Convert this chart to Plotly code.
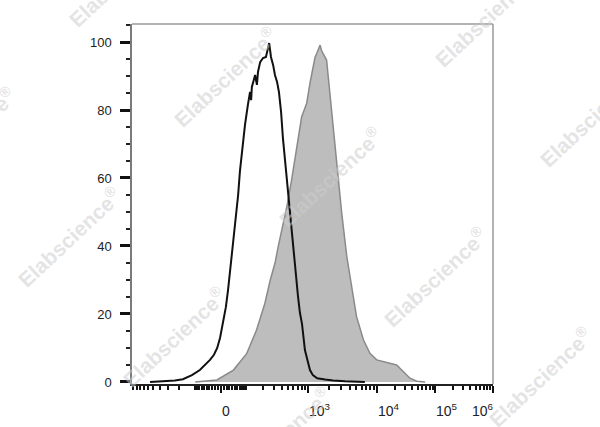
import numpy as np
import plotly.graph_objects as go

# ---- data (display channel 0..1000 on a biexponential axis, % of max) ----
control_channel = [50, 78, 97, 119, 141, 166, 188, 202, 216, 227, 236, 244, 252, 260, 266, 271,
                   277, 283, 288, 294, 299, 305, 313, 321, 327, 330, 332, 335, 341, 346, 349, 355,
                   363, 371, 374, 380, 385, 391, 396, 402, 407, 413, 418, 424, 429, 435, 443, 452,
                   460, 465, 471, 479, 488, 493, 501, 513, 535, 557, 590, 618, 645]
control_count = [0, 0.1, 0.2, 0.4, 0.8, 2, 3.5, 5, 6.5, 8, 10, 13, 17, 22, 27, 32,
                 37, 43, 48.5, 55, 62, 68, 75.6, 81.5, 85.3, 82.9, 86.8, 87.9, 90.3, 87.4, 91.2, 94.1,
                 95.3, 95.6, 97, 99.7, 95.6, 93.2, 90.3, 88.2, 85.3, 79.4, 71.8, 65, 59, 52, 44.7, 35,
                 25, 20.5, 17, 9.4, 5.5, 3.5, 2, 1.1, 0.7, 0.4, 0.2, 0.1, 0]

stained_channel = [175, 188, 235, 281, 318, 345, 368, 383, 396, 405, 415, 429, 442, 456, 463, 470,
                   477, 484, 493, 502, 507, 512, 516, 521, 525, 530, 535, 539, 549, 558, 567, 581,
                   595, 609, 622, 641, 659, 678, 696, 715, 733, 752, 770, 789, 812]
stained_count = [0, 0.1, 0.6, 3.5, 8.4, 15.3, 23.1, 30, 34.9, 39.8, 44.7, 51.6, 59.4, 69.2, 74, 78,
                 80, 82, 87.9, 92.7, 95.5, 96.7, 98, 99.1, 97.5, 96.7, 95.5, 94.7, 83.9, 74.1, 64.3, 49.6,
                 36.9, 27, 19.2, 12.4, 8.4, 6.5, 6, 5.5, 5, 3, 1.1, 0.2, 0]

x_major_values = [0, 1e3, 1e4, 1e5, 1e6]
x_major_labels = ["0", "10<sup>3</sup>", "10<sup>4</sup>", "10<sup>5</sup>", "10<sup>6</sup>"]
y_tick_values = [0, 20, 40, 60, 80, 100]
watermark_text = "Elabscience<sup>®</sup>"


# ---- biexponential display transform (value -> channel) ----
def biex(v):
    v = float(v)
    if v >= 1000:
        return float(np.interp(np.log10(v), [3, 4, 5, 6], [488, 679, 840, 1000]))
    a = 242.0 / np.arcsinh(10.0)
    return 246.0 + a * np.arcsinh(v / 100.0)


minor_vals = []
for n in range(1, 6):
    for k in range(1, 10):
        val = k * 10 ** n
        if val not in x_major_values:
            minor_vals.append(biex(val))
for n in range(1, 3):
    for k in range(1, 10):
        minor_vals.append(biex(-k * 10 ** n))
minor_vals.append(biex(-1000))
major_pos = [biex(v) for v in x_major_values]

# plot area in pixels
L, R, T, B = 132, 493, 24, 384
W, H = 600, 427


def px2paper(px, py):
    return (px - L) / (R - L), (B - py) / (B - T)


fig = go.Figure()
fig.add_trace(go.Scatter(x=stained_channel, y=stained_count, mode="lines",
                         line=dict(color="#8a8a8a", width=1.5, shape="linear"),
                         fill="tozeroy", fillcolor="#bdbdbd", hoverinfo="skip"))
fig.add_trace(go.Scatter(x=control_channel, y=control_count, mode="lines",
                         line=dict(color="#111111", width=2), hoverinfo="skip"))

annotations = []
# x tick labels (FlowJo style, starting at the tick)
for i, (pos, lab) in enumerate(zip(major_pos, x_major_labels)):
    anchor = "right" if i == len(major_pos) - 1 else "left"
    xs = 3 if anchor == "right" else -1
    annotations.append(dict(x=pos, xref="x", y=(B - 421) / (B - T), yref="paper",
                            text=lab, showarrow=False, xanchor=anchor, yanchor="bottom",
                            xshift=xs, font=dict(family="Liberation Sans, Arial", size=14, color="#222")))

# watermarks on a lattice
base = np.array([225.0, 77.0])
va = np.array([105.0, 100.0])
vb = np.array([156.0, -160.0])
for i in range(-4, 5):
    for j in range(-4, 5):
        p = base + i * va + j * vb
        if -45 < p[0] < 645 and -25 < p[1] < 455:
            qx, qy = px2paper(p[0], p[1])
            annotations.append(dict(x=qx, y=qy, xref="paper", yref="paper", text=watermark_text,
                                    showarrow=False, textangle=-43, xanchor="center", yanchor="middle",
                                    font=dict(family="Liberation Sans, Arial", size=21,
                                              color="rgba(205,205,205,0.55)", weight="bold")))

shapes = [
    dict(type="line", xref="paper", yref="paper", x0=0, x1=1, y0=1, y1=1,
         line=dict(color="#9a9a9a", width=1.5)),
    dict(type="line", xref="paper", yref="paper", x0=1, x1=1, y0=0, y1=1,
         line=dict(color="#9a9a9a", width=1.5)),
]

fig.update_layout(
    width=W, height=H,
    margin=dict(l=L, r=W - R, t=T, b=H - B, pad=0),
    paper_bgcolor="white", plot_bgcolor="white",
    showlegend=False,
    font=dict(family="Liberation Sans, Arial", size=13, color="#222"),
    annotations=annotations,
    shapes=shapes,
    xaxis=dict(range=[0, 1000], showgrid=False, zeroline=False,
               showline=True, linecolor="#222", linewidth=1.5,
               tickmode="array", tickvals=major_pos, showticklabels=False,
               ticks="outside", ticklen=7, tickwidth=2, tickcolor="#111",
               minor=dict(tickmode="array", tickvals=minor_vals, ticks="outside",
                          ticklen=4, tickwidth=1.5, tickcolor="#111")),
    yaxis=dict(range=[-0.6, 105.3], showgrid=False, zeroline=False,
               showline=True, linecolor="#7a7a7a", linewidth=1.5,
               tickmode="array", tickvals=y_tick_values,
               ticks="outside", ticklen=10, tickwidth=2.5, tickcolor="#111",
               ticklabelstandoff=6,
               tickfont=dict(family="Liberation Sans, Arial", size=13, color="#222"),
               minor=dict(dtick=5, ticks="outside", ticklen=4, tickwidth=1.5, tickcolor="#222")),
)

fig.write_html("out.html", config={"displayModeBar": False},
               post_script="document.body.style.margin='0';document.body.style.padding='0';")
